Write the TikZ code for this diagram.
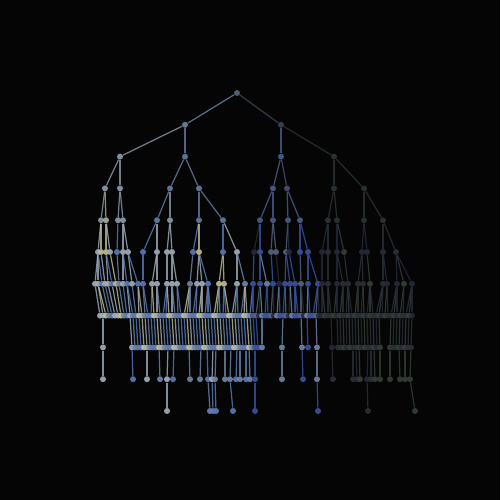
\documentclass[tikz,border=0pt]{standalone}
\definecolor{bgblack}{HTML}{050505}
\definecolor{croot}{HTML}{56677C}
\definecolor{csteelA}{HTML}{6F86A6}
\definecolor{cslateA}{HTML}{3C4858}
\definecolor{cgrayA}{HTML}{8D9CAD}
\definecolor{cyelA}{HTML}{A9AF9A}
\definecolor{csteelB}{HTML}{667EA2}
\definecolor{cblueA}{HTML}{4C5E8E}
\definecolor{cslateB}{HTML}{474F74}
\definecolor{cdarkA}{HTML}{2D3437}
\definecolor{pgray}{HTML}{A3B0BE}
\definecolor{pyel}{HTML}{C2C196}
\definecolor{pblue}{HTML}{5C7CBA}
\definecolor{psteel}{HTML}{7087A8}
\definecolor{pdeep}{HTML}{3A54A2}
\definecolor{pslate}{HTML}{56667F}
\definecolor{polive}{HTML}{344036}
\definecolor{pdark}{HTML}{2B3136}
\definecolor{pnight}{HTML}{262A3C}

\pgfdeclarelayer{back}
\pgfdeclarelayer{edges}
\pgfsetlayers{back,edges,main}

% colour of a deep node, picked from its x position
\newcommand\setcol[1]{%
  \pgfmathtruncatemacro\tm{mod(#1,5)}%
  \ifnum#1<132
    \ifcase\tm\def\tcol{pgray}\or\def\tcol{pyel}\or\def\tcol{pblue}\or\def\tcol{pgray}\else\def\tcol{psteel}\fi
  \else\ifnum#1<252
    \ifcase\tm\def\tcol{psteel}\or\def\tcol{pblue}\or\def\tcol{pgray}\or\def\tcol{pblue}\else\def\tcol{pyel}\fi
  \else\ifnum#1<322
    \ifcase\tm\def\tcol{pdeep}\or\def\tcol{pslate}\or\def\tcol{psteel}\or\def\tcol{pdeep}\else\def\tcol{pnight}\fi
  \else
    \ifcase\tm\def\tcol{polive}\or\def\tcol{pdark}\or\def\tcol{pnight}\or\def\tcol{pdark}\else\def\tcol{polive}\fi
  \fi\fi\fi}

% level, x
\newcommand\placedot[2]{%
  \setcol{#2}%
  \node[dot, fill=\tcol] (t#1-#2) at (#2,{93+31.8*#1}) {};}
% level, x, parent x
\newcommand\placebranch[3]{%
  \setcol{#2}%
  \pgfmathtruncatemacro\uplevel{#1-1}%
  \draw[branch, color=\tcol] (t\uplevel-#3) -- (t#1-#2);}

% upper levels: level / x / parent x / colour
\def\toplevels{1/185/237/csteelA, 1/281/237/cslateA,
  2/120/185/cgrayA, 2/185/185/csteelB, 2/281/281/cblueA, 2/334/281/cdarkA,
  3/105/120/cgrayA, 3/120/120/cgrayA, 3/170/185/csteelB, 3/199/185/csteelB,
  3/273/281/cblueA, 3/287/281/cslateB, 3/334/334/cdarkA, 3/364/334/cdarkA,
  4/101/105/cgrayA, 4/106/105/cyelA, 4/118/120/cgrayA, 4/123/120/cgrayA,
  4/157/170/csteelB, 4/170/170/cgrayA, 4/199/199/csteelB, 4/223/199/csteelB,
  4/260/273/cblueA, 4/273/273/cblueA, 4/288/287/cblueA, 4/300/287/cblueA,
  4/328/334/cdarkA, 4/337/334/cdarkA, 4/364/364/cdarkA, 4/383/364/cdarkA}

% lower levels: x / parent x
\def\lvlv{98/101, 101/101, 106/106, 110/106, 117/118, 123/123,
  128/123, 143/157, 157/157, 167/170, 172/170, 193/199, 199/199, 223/223,
  237/223, 254/260, 260/260, 271/273, 276/273, 286/288, 289/288, 300/300,
  308/300, 322/328, 328/328, 337/337, 344/337, 362/364, 367/364, 383/383,
  396/383}
\def\lvlvi{95/98, 98/98, 102/98, 105/101, 108/106, 112/106, 116/110,
  119/117, 123/123, 127/123, 132/128, 138/128, 143/143, 152/157, 157/157,
  167/167, 172/172, 177/172, 190/193, 197/199, 202/199, 208/199, 219/223,
  224/223, 237/237, 245/237, 253/254, 260/260, 267/260, 273/271, 279/276,
  285/286, 290/286, 295/289, 301/300, 308/308, 318/308, 322/322, 328/328,
  337/337, 343/337, 348/344, 358/362, 363/362, 370/367, 383/383, 387/383,
  397/396, 404/396, 412/396}
\def\lvlvii{100/95, 103/98, 106/98, 109/102, 112/105, 115/108,
  118/112, 121/116, 124/119, 127/123, 130/127, 133/127, 136/132, 139/138,
  142/138, 145/143, 148/143, 151/152, 154/152, 157/157, 160/157, 163/167,
  166/167, 169/167, 172/172, 175/172, 178/177, 181/177, 184/190, 187/190,
  190/190, 193/197, 196/197, 199/202, 202/202, 205/208, 208/208, 211/208,
  214/219, 217/219, 220/219, 223/224, 226/224, 229/224, 232/237, 235/237,
  238/237, 241/245, 244/245, 247/245, 250/253, 253/253, 256/260, 259/260,
  262/260, 265/267, 268/267, 271/273, 274/273, 277/279, 280/279, 283/285,
  286/285, 289/290, 292/290, 295/295, 298/295, 301/301, 304/301, 307/308,
  310/308, 313/318, 316/318, 319/318, 322/322, 325/322, 328/328, 331/328,
  334/337, 337/337, 340/343, 343/343, 346/348, 349/348, 352/348, 355/358,
  358/358, 361/363, 364/363, 367/370, 370/370, 373/370, 376/383, 379/383,
  382/383, 385/387, 388/387, 391/397, 394/397, 397/397, 400/404, 403/404,
  406/412, 409/412, 412/412}
\def\lvlviii{103/103, 132/130, 135/133, 138/136, 141/139, 144/142,
  147/145, 150/148, 153/151, 156/154, 159/157, 162/160, 165/163, 168/166,
  171/169, 174/172, 177/175, 180/178, 183/181, 186/184, 189/187, 192/190,
  195/193, 198/196, 201/199, 204/202, 207/205, 210/208, 213/211, 216/214,
  219/217, 222/220, 225/223, 228/226, 231/229, 234/232, 237/235, 240/238,
  243/241, 246/244, 249/247, 252/250, 255/253, 258/256, 262/262, 282/283,
  302/301, 308/307, 317/316, 332/331, 338/337, 341/340, 344/343, 347/346,
  350/349, 353/352, 356/355, 359/358, 362/361, 365/364, 368/367, 371/370,
  374/373, 377/376, 380/379, 390/391, 393/394, 396/397, 399/400, 402/403,
  405/406, 408/409, 411/412}
\def\lvlix{103/103, 133/132, 147/147, 160/159, 167/168, 173/174,
  190/189, 200/201, 208/207, 212/213, 215/216, 225/225, 230/231, 236/237,
  240/240, 246/246, 250/249, 255/255, 282/282, 303/302, 317/317, 333/332,
  353/353, 357/356, 360/359, 367/368, 371/371, 375/374, 380/380, 390/390,
  400/399, 405/405, 410/411}
\def\lvlx{167/167, 210/208, 213/212, 216/215, 233/230, 255/255,
  318/317, 368/367, 415/410}

\begin{document}
\begin{tikzpicture}[
    x=0.02cm, y=-0.02cm,
    dot/.style={circle, inner sep=0pt, minimum size=3.4pt, draw=none, fill opacity=0.9},
    branch/.style={line width=0.7pt, draw opacity=0.8},
  ]

  % Background
  \begin{pgfonlayer}{back}
    \fill[bgblack] (0,0) rectangle (500,500);
  \end{pgfonlayer}

  % === Nodes ===
  \node[dot, fill=croot] (t0-237) at (237,93) {};
  \foreach \l/\x/\p/\c in \toplevels
    \node[dot, fill=\c] (t\l-\x) at (\x,{93+31.8*\l}) {};
  \foreach \x/\p in \lvlv    {\placedot{5}{\x}}
  \foreach \x/\p in \lvlvi   {\placedot{6}{\x}}
  \foreach \x/\p in \lvlvii  {\placedot{7}{\x}}
  \foreach \x/\p in \lvlviii {\placedot{8}{\x}}
  \foreach \x/\p in \lvlix   {\placedot{9}{\x}}
  \foreach \x/\p in \lvlx    {\placedot{10}{\x}}

  % === Branches, behind the nodes ===
  \begin{pgfonlayer}{edges}
    \foreach \l/\x/\p/\c in \toplevels {
      \pgfmathtruncatemacro\uplevel{\l-1}
      \draw[branch, color=\c] (t\uplevel-\p) -- (t\l-\x);
    }
    \foreach \x/\p in \lvlv    {\placebranch{5}{\x}{\p}}
    \foreach \x/\p in \lvlvi   {\placebranch{6}{\x}{\p}}
    \foreach \x/\p in \lvlvii  {\placebranch{7}{\x}{\p}}
    \foreach \x/\p in \lvlviii {\placebranch{8}{\x}{\p}}
    \foreach \x/\p in \lvlix   {\placebranch{9}{\x}{\p}}
    \foreach \x/\p in \lvlx    {\placebranch{10}{\x}{\p}}
  \end{pgfonlayer}

\end{tikzpicture}
\end{document}
